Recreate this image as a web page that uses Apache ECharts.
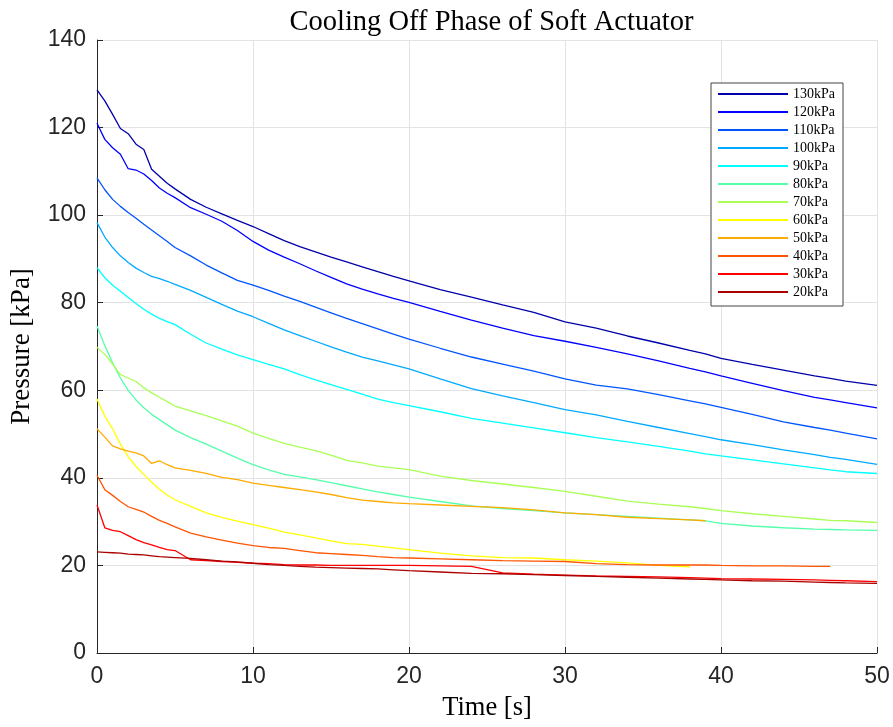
<!DOCTYPE html>
<html>
<head>
<meta charset="utf-8">
<script src="https://cdn.jsdelivr.net/npm/echarts@6/dist/echarts.min.js"></script>
<style>
html,body{margin:0;padding:0;background:#fff;}
#chart{width:893px;height:727px;}
</style>
</head>
<body>
<div id="chart"></div>
<script>
// Time grid (s)
const times = [0,0.5,1,1.5,2,2.5,3,3.5,4,4.5,5,6,7,8,9,10,11,12,13,14,15,16,17,18,19,20,22,24,26,28,30,32,34,36,38,39,40,42,44,46,47,48,50];

// Series names (legend)
const names = ['130kPa','120kPa','110kPa','100kPa','90kPa','80kPa','70kPa','60kPa','50kPa','40kPa','30kPa','20kPa'];

// Pressure values (kPa), aligned with `times`
const p130 = [128.6,126.1,123.0,119.8,118.6,116.2,115.0,110.5,108.9,107.3,106.0,103.6,101.8,100.3,98.8,97.4,95.8,94.2,92.8,91.6,90.4,89.3,88.2,87.1,86.0,85.0,83.0,81.3,79.5,77.8,75.6,74.2,72.4,70.8,69.1,68.3,67.3,65.9,64.6,63.3,62.7,62.1,61.1];
const p120 = [121.0,117.3,115.4,113.9,110.6,110.3,109.4,107.9,106.2,105.0,104.0,101.7,100.2,98.6,96.5,94.0,92.0,90.4,88.9,87.3,85.8,84.3,83.1,82.0,81.0,80.1,78.0,76.0,74.2,72.5,71.2,69.8,68.3,66.7,65.0,64.2,63.3,61.6,59.9,58.4,57.8,57.2,56.0];
const p110 = [108.5,105.8,103.6,102.0,100.6,99.3,97.9,96.6,95.3,94.0,92.6,90.7,88.6,86.8,85.1,84.0,82.8,81.5,80.3,79.0,77.7,76.4,75.2,74.0,72.8,71.7,69.6,67.6,66.0,64.4,62.6,61.2,60.3,59.0,57.6,56.9,56.1,54.5,52.8,51.5,50.9,50.2,48.9];
const p100 = [98.3,95.0,92.6,90.7,89.2,87.9,86.9,86.0,85.5,84.9,84.2,82.8,81.2,79.6,78.1,76.8,75.3,73.8,72.5,71.2,69.9,68.7,67.6,66.7,65.8,64.9,62.6,60.4,58.7,57.2,55.6,54.4,52.9,51.5,50.1,49.4,48.7,47.6,46.4,45.3,44.7,44.2,43.1];
const p90  = [88.0,85.7,84.0,82.6,81.2,79.8,78.5,77.4,76.4,75.7,75.0,72.8,70.8,69.4,68.1,67.0,65.9,64.9,63.6,62.4,61.3,60.2,59.1,58.0,57.2,56.5,55.1,53.6,52.5,51.4,50.3,49.2,48.2,47.2,46.1,45.5,45.0,44.1,43.2,42.3,41.8,41.4,41.0];
const p80  = [74.7,70.2,66.3,62.8,60.0,57.8,56.0,54.5,53.3,52.1,50.9,49.2,47.7,46.1,44.5,43.0,41.8,40.8,40.2,39.6,38.9,38.2,37.5,36.8,36.2,35.6,34.6,33.6,33.0,32.5,32.0,31.6,31.2,30.8,30.4,30.2,29.6,29.0,28.6,28.3,28.2,28.1,28.0];
const p70  = [69.8,68.2,66.0,63.6,62.8,62.0,60.6,59.4,58.4,57.4,56.4,55.3,54.2,53.0,51.8,50.2,49.0,47.9,47.0,46.2,45.2,44.0,43.4,42.7,42.3,41.9,40.4,39.4,38.6,37.8,36.9,35.8,34.7,34.0,33.4,33.0,32.5,31.8,31.2,30.6,30.3,30.2,29.8];
const p60  = [58.0,54.1,51.2,47.7,44.8,42.6,40.8,39.0,37.4,36.1,35.0,33.5,32.0,31.0,30.1,29.3,28.5,27.6,27.0,26.3,25.6,25.0,24.8,24.4,24.0,23.6,22.8,22.2,21.8,21.7,21.3,21.0,20.6,20.0,19.7,null,null,null,null,null,null,null,null];
const p50  = [51.2,49.3,47.3,46.6,46.1,45.7,45.0,43.3,43.9,43.0,42.3,41.7,41.0,40.1,39.6,38.8,38.3,37.8,37.3,36.8,36.2,35.5,34.9,34.6,34.3,34.1,33.8,33.5,33.2,32.7,32.0,31.6,31.0,30.7,30.4,30.2,null,null,null,null,null,null,null];
const p40  = [40.6,37.3,36.0,34.6,33.4,32.8,32.2,31.2,30.3,29.6,28.8,27.4,26.5,25.8,25.1,24.5,24.1,23.9,23.4,22.9,22.7,22.5,22.3,22.0,21.8,21.7,21.5,21.3,21.1,21.0,20.9,20.4,20.2,20.1,20.1,20.1,20.0,19.9,19.9,19.8,19.8,null,null];
const p30  = [33.8,28.6,28.0,27.7,26.8,25.9,25.2,24.7,24.1,23.6,23.4,21.3,21.1,20.9,20.7,20.5,20.4,20.2,20.1,20.1,20.0,20.0,20.0,20.0,20.0,20.0,19.9,19.8,18.3,18.0,17.8,17.6,17.5,17.4,17.2,17.1,17.0,16.9,16.8,16.7,16.6,16.5,16.3];
const p20  = [23.1,23.0,22.9,22.8,22.6,22.5,22.4,22.2,22.0,21.9,21.8,21.6,21.3,21.0,20.8,20.5,20.2,20.0,19.8,19.6,19.5,19.4,19.3,19.2,19.0,18.8,18.5,18.2,18.1,17.9,17.7,17.5,17.3,17.1,16.9,16.8,16.7,16.5,16.4,16.2,16.1,16.0,15.9];

// Axis ticks
const xTicks = {min:0, max:50, interval:10};
const yTicks = {min:0, max:140, interval:20};

const allValues = [p130,p120,p110,p100,p90,p80,p70,p60,p50,p40,p30,p20];
const colors = ['#0000AA','#0000FF','#0055FF','#00AAFF','#00FFFF','#55FFAA','#AAFF55','#FFFF00','#FFAA00','#FF5500','#FF0000','#AA0000'];

const series = names.map((n,i)=>({
  name:n, type:'line', showSymbol:false, symbol:'none',
  data: times.map((t,j)=>[t, allValues[i][j]]).filter(d=>d[1]!==null),
  lineStyle:{width:1.3, color:colors[i]}, itemStyle:{color:colors[i]},
  emphasis:{disabled:true}, animation:false
}));

const chart = echarts.init(document.getElementById('chart'), null, {renderer:'canvas'});
const serif = '"Liberation Serif", "DejaVu Serif", serif';
const sans = '"Liberation Sans", Arial, sans-serif';
chart.setOption({
  backgroundColor:'#fff',
  animation:false,
  title:{text:'Cooling Off Phase of Soft Actuator', left:486.5, top:3, textAlign:'center',
    textStyle:{fontFamily:serif, fontSize:28.5, fontWeight:'normal', color:'#000'}},
  grid:{left:96, right:16, top:40, bottom:72, containLabel:false},
  legend:{orient:'vertical', left:711, top:83, data:names, icon:'rect', itemWidth:70, itemHeight:2, itemGap:4,
    padding:[4,8,7,7], borderColor:'#444', borderWidth:1, backgroundColor:'#fff',
    textStyle:{fontFamily:serif, fontSize:14, lineHeight:14, color:'#000'}},
  xAxis:{type:'value', min:xTicks.min, max:xTicks.max, interval:xTicks.interval,
    name:'Time [s]', nameLocation:'middle', nameGap:42,
    nameTextStyle:{fontFamily:serif, fontSize:26.5, color:'#000'},
    axisLine:{show:true, onZero:false, lineStyle:{color:'#262626', width:1}},
    axisTick:{show:true, inside:true, length:6, lineStyle:{color:'#262626'}},
    axisLabel:{fontFamily:sans, fontSize:23, color:'#262626', margin:12},
    splitLine:{show:true, lineStyle:{color:'#e3e3e3', width:1}}},
  yAxis:{type:'value', min:yTicks.min, max:yTicks.max, interval:yTicks.interval,
    name:'Pressure [kPa]', nameLocation:'middle', nameGap:62,
    nameTextStyle:{fontFamily:serif, fontSize:27, color:'#000'},
    axisLine:{show:true, onZero:false, lineStyle:{color:'#262626', width:1}},
    axisTick:{show:true, inside:true, length:6, lineStyle:{color:'#262626'}},
    axisLabel:{fontFamily:sans, fontSize:23, color:'#262626', margin:11},
    splitLine:{show:true, lineStyle:{color:'#e3e3e3', width:1}}},
  series: series
});
</script>
</body>
</html>
